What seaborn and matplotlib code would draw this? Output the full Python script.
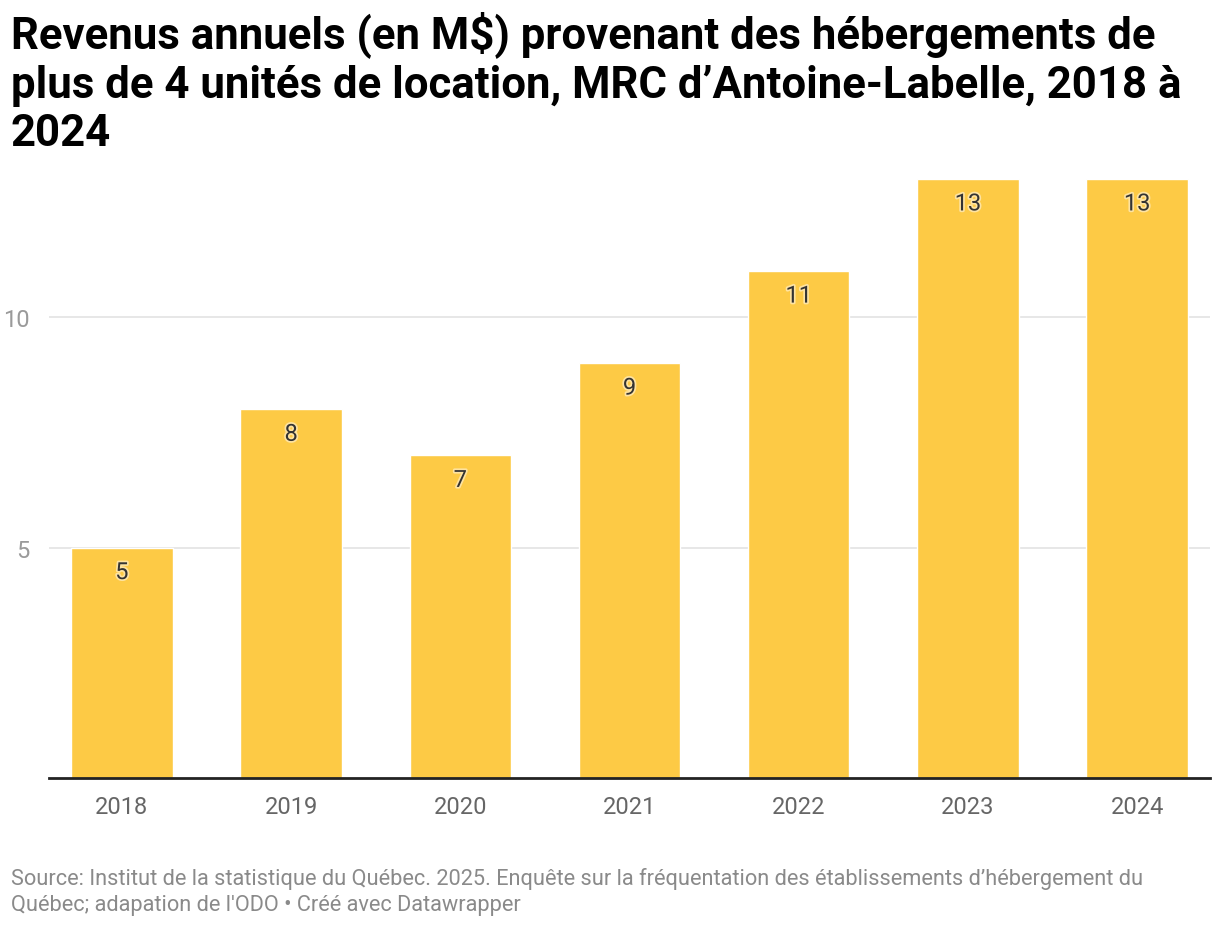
import pandas as pd
import matplotlib.pyplot as plt
import matplotlib.patheffects as pe
import seaborn as sns

years = ['2018', '2019', '2020', '2021', '2022', '2023', '2024']
revenus = [5, 8, 7, 9, 11, 13, 13]

df = pd.DataFrame({'annee': years, 'revenus': revenus})

sns.set_style('white')
plt.rcParams['font.family'] = ['Roboto', 'DejaVu Sans']

fig = plt.figure(figsize=(12.2, 9.28), dpi=100)
ax = fig.add_axes([0.040, 0.1606, 0.952, 0.6455])

sns.barplot(data=df, x='annee', y='revenus', color='#fdca45', width=0.6,
            saturation=1, ax=ax)

ax.set_xlim(-0.432, 6.432)
ax.set_ylim(0, 13)
ax.set_yticks([5, 10])
ax.yaxis.grid(True, color='#e3e3e3', linewidth=1.2)
ax.set_axisbelow(True)
for s in ['top', 'right', 'left']:
    ax.spines[s].set_visible(False)
ax.spines['bottom'].set_color('#222222')
ax.spines['bottom'].set_linewidth(2)
ax.tick_params(axis='x', length=0, pad=12, labelsize=17, labelcolor='#666666')
ax.tick_params(axis='y', length=0, pad=14, labelsize=17, labelcolor='#9a9a9a')
ax.set_xlabel('')
ax.set_ylabel('')

for i, v in enumerate(revenus):
    ax.annotate(str(v), (i, v), xytext=(0, -18), textcoords='offset points',
                ha='center', va='center', fontsize=17, color='#333333',
                path_effects=[pe.withStroke(linewidth=2.5, foreground='#fee3a0')])

fig.text(0.009, 0.988,
         "Revenus annuels (en M$) provenant des hébergements de\n"
         "plus de 4 unités de location, MRC d’Antoine-Labelle, 2018 à\n"
         "2024",
         ha='left', va='top', fontsize=31.5, fontweight='bold', color='#000000',
         linespacing=1.2)

fig.text(0.009, 0.013,
         "Source: Institut de la statistique du Québec. 2025. Enquête sur la fréquentation des établissements d’hébergement du\n"
         "Québec; adapation de l'ODO • Créé avec Datawrapper",
         ha='left', va='bottom', fontsize=15.7, color='#8a8a8a', linespacing=1.3)

fig.savefig('out.png', dpi=100)
